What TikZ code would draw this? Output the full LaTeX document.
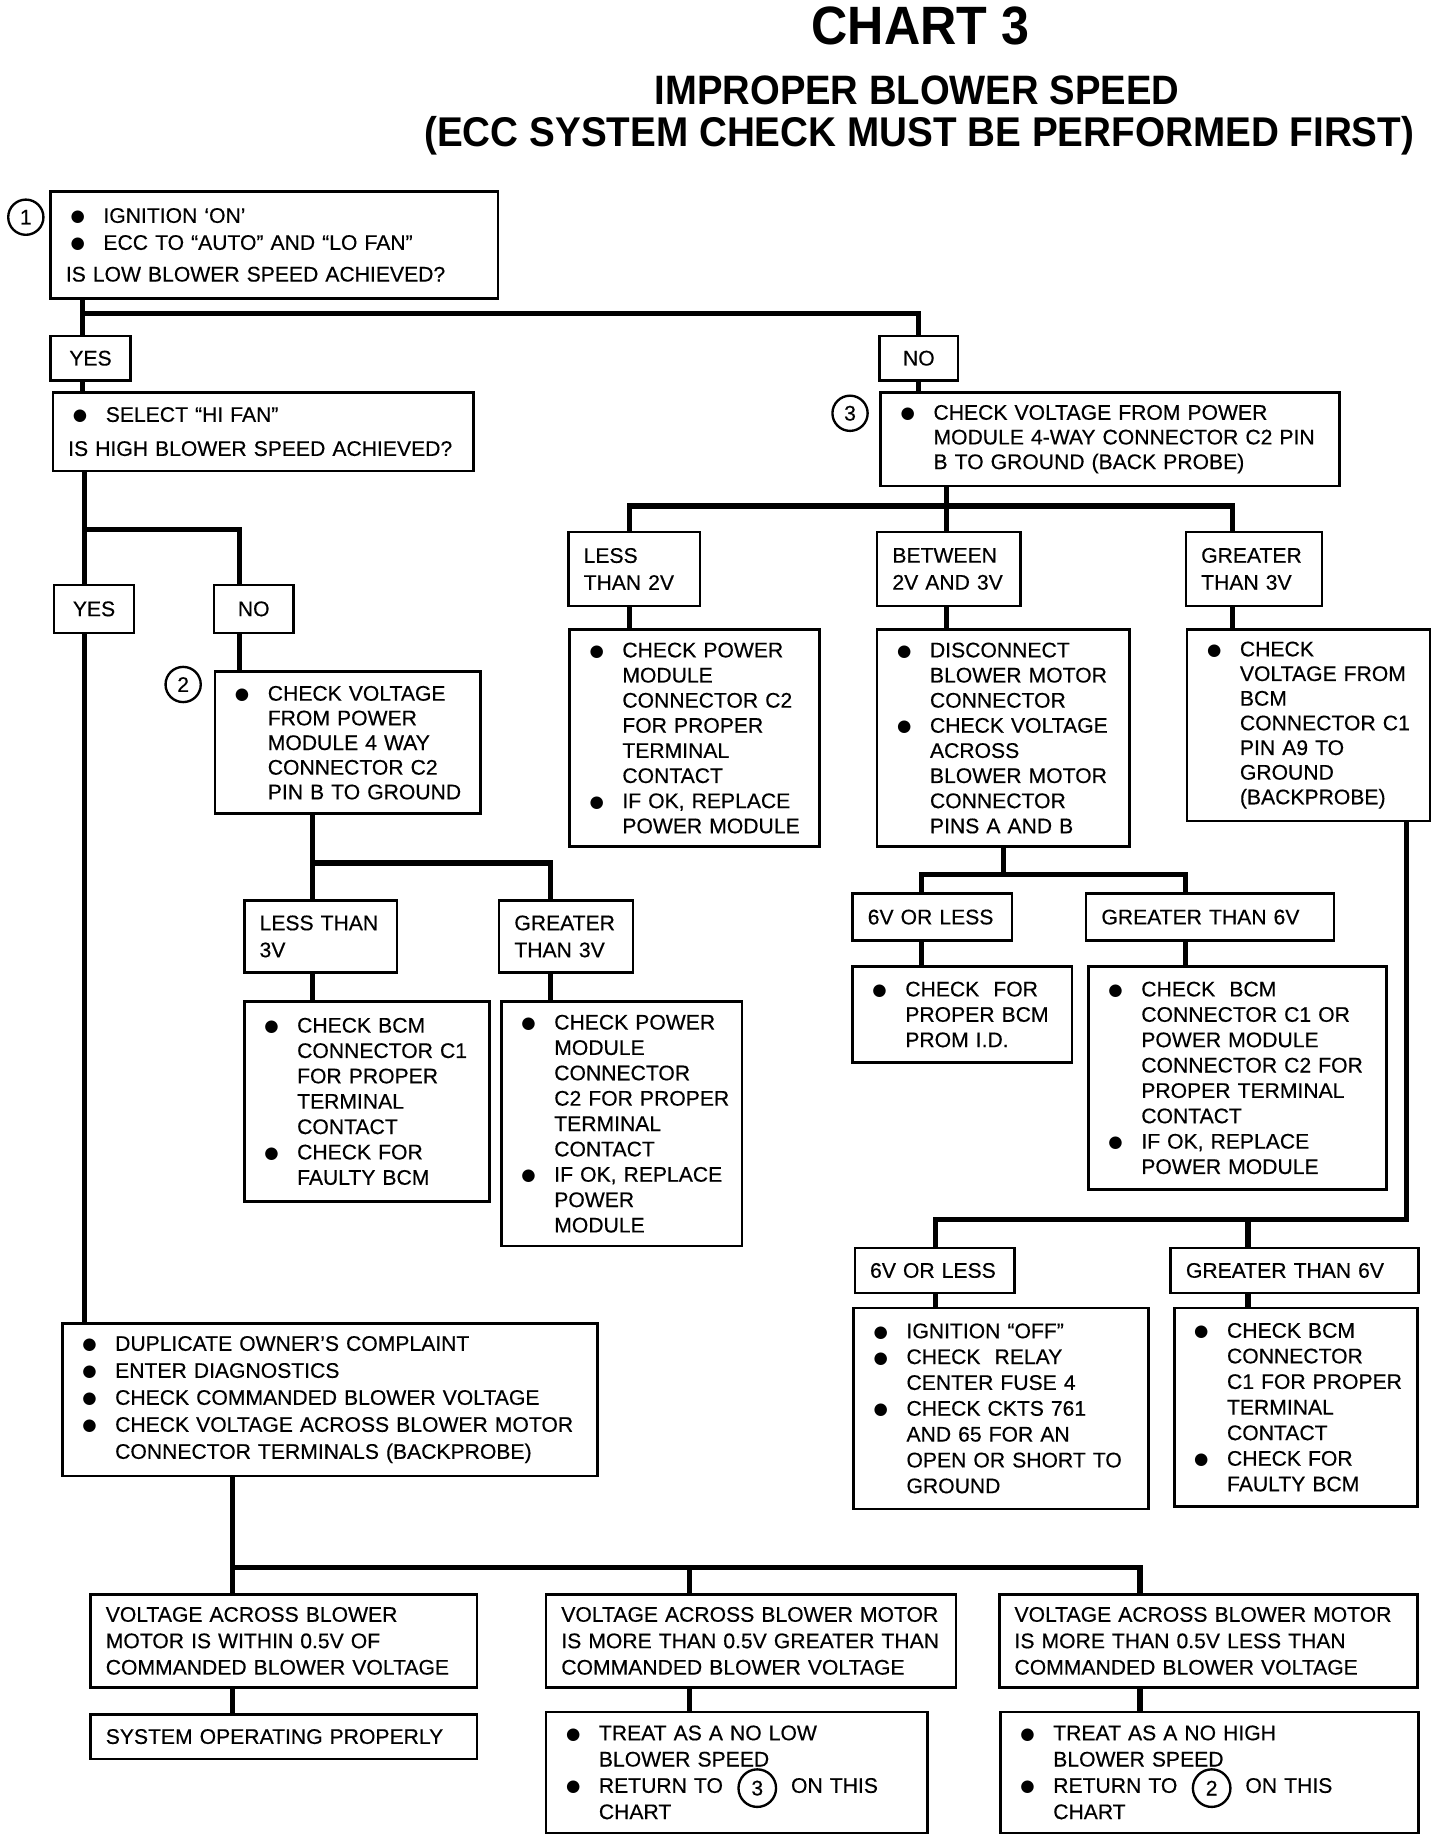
\documentclass[tikz,border=0pt]{standalone}
\usepackage{fontspec}
\setmainfont{Liberation Sans}[FakeBold=0.4]
\newfontfamily\tfont{Liberation Sans}[FakeStretch=0.93]
\newfontfamily\dotfont{DejaVu Sans}
\newcommand{\mydot}{\raisebox{0.4pt}[0pt][0pt]{\dotfont\fontsize{7}{8}\selectfont ●}}
\newcommand{\myb}[1]{\hspace*{8.5pt}\makebox[14pt][l]{\mydot}\mbox{#1}}
\newcommand{\myc}[1]{\hspace*{22.5pt}\mbox{#1}}
\newcommand{\myp}[1]{\hspace*{6.5pt}\mbox{#1}}
\newcommand{\mybox}[7][]{\pgfmathsetlengthmacro\bw{(#5-#3)*0.5pt}\pgfmathsetlengthmacro\bh{(#6-#4)*0.5pt}\node[box,minimum width=\bw,minimum height=\bh,text width=\bw,#1] (#2) at (#3,#4) {#7};}
\tikzset{
  box/.style={draw, line width=1.1pt, inner sep=0pt, anchor=north west, align=left, font=\fontsize{9}{10.7}\selectfont},
  conn/.style={line width=2.2pt, line join=miter},
  circ/.style={draw, circle, line width=1pt, minimum size=15pt, inner sep=0pt, font=\fontsize{9}{10}\selectfont},
  wide/.style={font=\fontsize{9}{11.5}\selectfont}
}
\begin{document}
\begin{tikzpicture}[x=0.5pt,y=-0.5pt]
\useasboundingbox (0,0) rectangle (1240,1574);
\fill[white] (0,0) rectangle (1240,1574);
% titles
\node[anchor=base, inner sep=0pt, font=\tfont\bfseries\fontsize{23}{26}\selectfont] (title) at (784,38) {CHART 3};
\node[anchor=base, inner sep=0pt, font=\tfont\bfseries\fontsize{17.5}{20}\selectfont] (sub1) at (781,89) {IMPROPER BLOWER SPEED};
\node[anchor=base, inner sep=0pt, font=\tfont\bfseries\fontsize{17.7}{20}\selectfont] (sub2) at (783,125) {(ECC SYSTEM CHECK MUST BE PERFORMED FIRST)};
% boxes
\mybox[wide]{b1}{42}{162}{423}{253}{\myb{IGNITION ‘ON’}\\\myb{ECC TO “AUTO” AND “LO FAN”}\\[2pt]\myp{IS LOW BLOWER SPEED ACHIEVED?}}
\mybox[align=center]{yes1}{42}{285}{110}{323}{YES}
\mybox[align=center]{no1}{748}{285}{815}{323}{NO}
\mybox[wide]{b2}{44}{333}{402}{400}{\myb{SELECT “HI FAN”}\\[3pt]\myp{IS HIGH BLOWER SPEED ACHIEVED?}}
\mybox[font=\fontsize{9}{10.5}\selectfont]{chk3}{749}{333}{1140}{413}{\myb{CHECK VOLTAGE FROM POWER}\\\myc{MODULE 4-WAY CONNECTOR C2 PIN}\\\myc{B TO GROUND (BACK PROBE)}}
\mybox[align=center]{yes2}{45}{497}{113}{538}{YES}
\mybox[align=center]{no2}{181}{497}{249}{538}{NO}
\mybox[font=\fontsize{9}{10.5}\selectfont]{chk2}{182}{571}{408}{692}{\myb{CHECK VOLTAGE}\\\myc{FROM POWER}\\\myc{MODULE 4 WAY}\\\myc{CONNECTOR C2}\\\myc{PIN B TO GROUND}}
\mybox[wide]{lt2}{483}{452}{595}{515}{\myp{LESS}\\\myp{THAN 2V}}
\mybox[wide]{bt}{746}{452}{868}{515}{\myp{BETWEEN}\\\myp{2V AND 3V}}
\mybox[wide]{gt3v}{1009}{452}{1125}{515}{\myp{GREATER}\\\myp{THAN 3V}}
\mybox{lt2box}{484}{535}{697}{720}{\myb{CHECK POWER}\\\myc{MODULE}\\\myc{CONNECTOR C2}\\\myc{FOR PROPER}\\\myc{TERMINAL}\\\myc{CONTACT}\\\myb{IF OK, REPLACE}\\\myc{POWER MODULE}}
\mybox{btbox}{746}{535}{961}{720}{\myb{DISCONNECT}\\\myc{BLOWER MOTOR}\\\myc{CONNECTOR}\\\myb{CHECK VOLTAGE}\\\myc{ACROSS}\\\myc{BLOWER MOTOR}\\\myc{CONNECTOR}\\\myc{PINS A AND B}}
\mybox[font=\fontsize{9}{10.5}\selectfont]{gtbox}{1010}{535}{1217}{698}{\myb{CHECK}\\\myc{VOLTAGE FROM}\\\myc{BCM}\\\myc{CONNECTOR C1}\\\myc{PIN A9 TO}\\\myc{GROUND}\\\myc{(BACKPROBE)}}
\mybox[wide]{lt3}{207}{766}{337}{827}{\myp{LESS THAN}\\\myp{3V}}
\mybox[wide]{gt3}{424}{766}{538}{827}{\myp{GREATER}\\\myp{THAN 3V}}
\mybox[font=\fontsize{9}{10.8}\selectfont]{lt3box}{207}{852}{416}{1022}{\myb{CHECK BCM}\\\myc{CONNECTOR C1}\\\myc{FOR PROPER}\\\myc{TERMINAL}\\\myc{CONTACT}\\\myb{CHECK FOR}\\\myc{FAULTY BCM}}
\mybox[font=\fontsize{9}{10.8}\selectfont]{gt3box}{426}{852}{631}{1060}{\myb{CHECK POWER}\\\myc{MODULE}\\\myc{CONNECTOR}\\\myc{C2 FOR PROPER}\\\myc{TERMINAL}\\\myc{CONTACT}\\\myb{IF OK, REPLACE}\\\myc{POWER}\\\myc{MODULE}}
\mybox{v6a}{725}{760}{861}{800}{\myp{6V OR LESS}}
\mybox{g6a}{924}{760}{1135}{800}{\myp{GREATER THAN 6V}}
\mybox[font=\fontsize{9}{10.8}\selectfont]{v6abox}{725}{822}{912}{904}{\myb{CHECK\ \ FOR}\\\myc{PROPER BCM}\\\myc{PROM I.D.}}
\mybox[font=\fontsize{9}{10.8}\selectfont]{g6abox}{926}{822}{1180}{1012}{\myb{CHECK\ \ BCM}\\\myc{CONNECTOR C1 OR}\\\myc{POWER MODULE}\\\myc{CONNECTOR C2 FOR}\\\myc{PROPER TERMINAL}\\\myc{CONTACT}\\\myb{IF OK, REPLACE}\\\myc{POWER MODULE}}
\mybox{v6b}{727}{1062}{863}{1100}{\myp{6V OR LESS}}
\mybox{g6b}{996}{1062}{1207}{1100}{\myp{GREATER THAN 6V}}
\mybox[font=\fontsize{9}{11}\selectfont]{v6bbox}{726}{1113}{977}{1284}{\myb{IGNITION “OFF”}\\\myb{CHECK\ \ RELAY}\\\myc{CENTER FUSE 4}\\\myb{CHECK CKTS 761}\\\myc{AND 65 FOR AN}\\\myc{OPEN OR SHORT TO}\\\myc{GROUND}}
\mybox[font=\fontsize{9}{10.9}\selectfont]{g6bbox}{999}{1113}{1206}{1282}{\myb{CHECK BCM}\\\myc{CONNECTOR}\\\myc{C1 FOR PROPER}\\\myc{TERMINAL}\\\myc{CONTACT}\\\myb{CHECK FOR}\\\myc{FAULTY BCM}}
\mybox[wide]{dup}{52}{1126}{508}{1256}{\myb{DUPLICATE OWNER’S COMPLAINT}\\\myb{ENTER DIAGNOSTICS}\\\myb{CHECK COMMANDED BLOWER VOLTAGE}\\\myb{CHECK VOLTAGE ACROSS BLOWER MOTOR}\\\myc{CONNECTOR TERMINALS (BACKPROBE)}}
\mybox[font=\fontsize{9}{11.25}\selectfont]{vv1}{76}{1357}{405}{1436}{\myp{VOLTAGE ACROSS BLOWER}\\\myp{MOTOR IS WITHIN 0.5V OF}\\\myp{COMMANDED BLOWER VOLTAGE}}
\mybox[font=\fontsize{9}{11.25}\selectfont]{vv2}{464}{1357}{813}{1436}{\myp{VOLTAGE ACROSS BLOWER MOTOR}\\\myp{IS MORE THAN 0.5V GREATER THAN}\\\myp{COMMANDED BLOWER VOLTAGE}}
\mybox[font=\fontsize{9}{11.25}\selectfont]{vv3}{850}{1357}{1206}{1436}{\myp{VOLTAGE ACROSS BLOWER MOTOR}\\\myp{IS MORE THAN 0.5V LESS THAN}\\\myp{COMMANDED BLOWER VOLTAGE}}
\mybox{sys}{76}{1459}{405}{1497}{\myp{SYSTEM OPERATING PROPERLY}}
\mybox[font=\fontsize{9}{11.2}\selectfont]{t2}{464}{1457}{789}{1560}{\myb{TREAT AS A NO LOW}\\\myc{BLOWER SPEED}\\\myb{RETURN TO\hspace{29pt}ON THIS}\\\myc{CHART}}
\mybox[font=\fontsize{9}{11.2}\selectfont]{t3}{851}{1457}{1207}{1560}{\myb{TREAT AS A NO HIGH}\\\myc{BLOWER SPEED}\\\myb{RETURN TO\hspace{29pt}ON THIS}\\\myc{CHART}}
% circled step numbers
\node[circ] (c1) at (22,185) {1};
\node[circ] (c2) at (156,583) {2};
\node[circ] (c3) at (724,352) {3};
\node[circ, minimum size=16pt] (c3b) at (645,1523) {3};
\node[circ, minimum size=16pt] (c2b) at (1032,1523) {2};
% junction coordinates
\coordinate (h1) at (70,267);
\coordinate (h2) at (72,451);
\coordinate (h2r) at (204,451);
\coordinate (h3) at (266,735);
\coordinate (h3r) at (469,735);
\coordinate (h4l) at (536,431);
\coordinate (h4m) at (806,431);
\coordinate (h4r) at (1050,431);
\coordinate (h5l) at (785,745);
\coordinate (h5m) at (855,745);
\coordinate (h5r) at (1010,745);
\coordinate (h6l) at (797,1039);
\coordinate (h6m) at (1063,1039);
\coordinate (h6r) at (1198,1039);
\coordinate (h7l) at (198,1335);
\coordinate (h7m) at (587,1335);
\coordinate (h7r) at (971,1335);
% connectors
\draw[conn] (b1.south -| h1) -- (yes1.north -| h1);
\draw[conn] (h1) -| (no1.north);
\draw[conn] (yes1.south -| h1) -- (b2.north -| h1);
\draw[conn] (no1.south) -- (chk3.north -| no1.south);
\draw[conn] (b2.south -| h2) -- (yes2.north -| h2);
\draw[conn] (h2) -- (h2r) -- (no2.north -| h2r);
\draw[conn] (yes2.south -| h2) -- (dup.north -| h2);
\draw[conn] (no2.south -| h2r) -- (chk2.north -| h2r);
\draw[conn] (chk2.south -| h3) -- (lt3.north -| h3);
\draw[conn] (h3) -- (h3r) -- (gt3.north -| h3r);
\draw[conn] (lt3.south -| h3) -- (lt3box.north -| h3);
\draw[conn] (gt3.south -| h3r) -- (gt3box.north -| h3r);
\draw[conn] (chk3.south -| h4m) -- (bt.north -| h4m);
\draw[conn] (lt2.north -| h4l) -- (h4l) -- (h4r) -- (gt3v.north -| h4r);
\draw[conn] (lt2.south -| h4l) -- (lt2box.north -| h4l);
\draw[conn] (bt.south -| h4m) -- (btbox.north -| h4m);
\draw[conn] (gt3v.south -| h4r) -- (gtbox.north -| h4r);
\draw[conn] (btbox.south -| h5m) -- (h5m);
\draw[conn] (v6a.north -| h5l) -- (h5l) -- (h5r) -- (g6a.north -| h5r);
\draw[conn] (v6a.south -| h5l) -- (v6abox.north -| h5l);
\draw[conn] (g6a.south -| h5r) -- (g6abox.north -| h5r);
\draw[conn] (gtbox.south -| h6r) -- (h6r) -- (h6l) -- (v6b.north -| h6l);
\draw[conn] (h6m) -- (g6b.north -| h6m);
\draw[conn] (v6b.south -| h6l) -- (v6bbox.north -| h6l);
\draw[conn] (g6b.south -| h6m) -- (g6bbox.north -| h6m);
\draw[conn] (dup.south -| h7l) -- (vv1.north -| h7l);
\draw[conn] (h7l) -- (h7r) -- (vv3.north -| h7r);
\draw[conn] (h7m) -- (vv2.north -| h7m);
\draw[conn] (vv1.south -| h7l) -- (sys.north -| h7l);
\draw[conn] (vv2.south -| h7m) -- (t2.north -| h7m);
\draw[conn] (vv3.south -| h7r) -- (t3.north -| h7r);
\end{tikzpicture}
\end{document}
